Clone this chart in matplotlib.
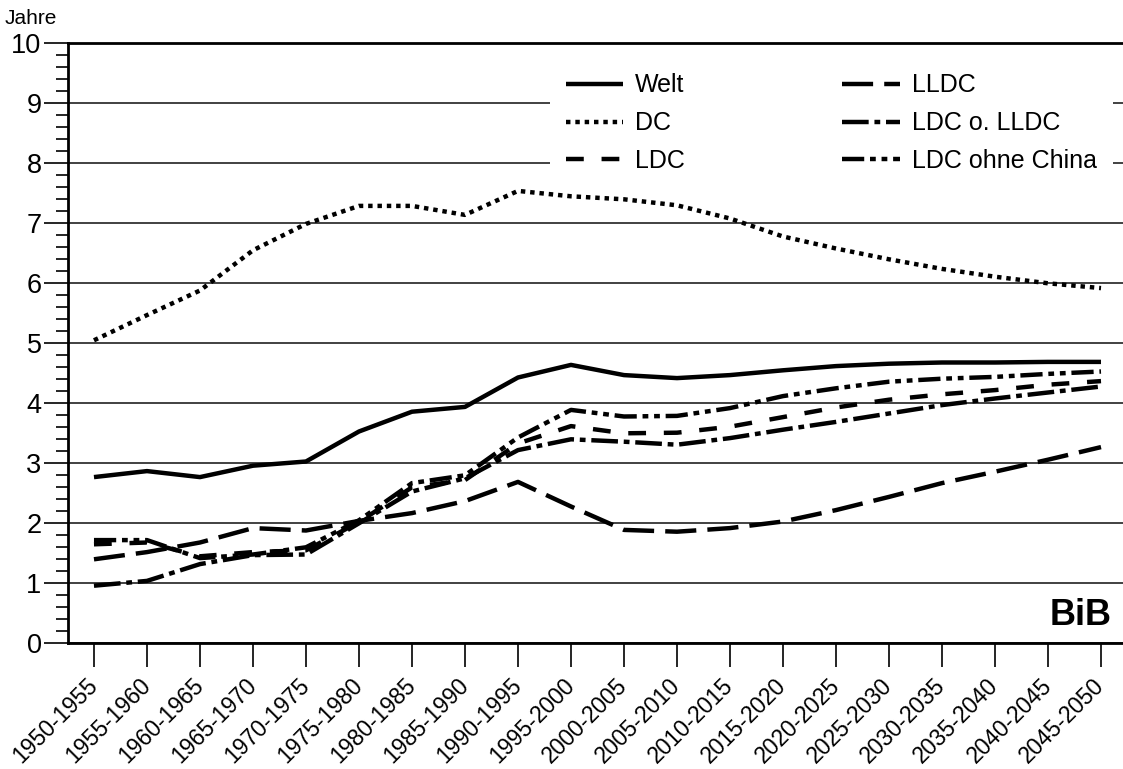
import numpy as np
import matplotlib.pyplot as plt
from matplotlib.ticker import MultipleLocator

plt.rcParams['font.family'] = ['Liberation Sans', 'DejaVu Sans']

perioden = ['1950-1955', '1955-1960', '1960-1965', '1965-1970', '1970-1975',
            '1975-1980', '1980-1985', '1985-1990', '1990-1995', '1995-2000',
            '2000-2005', '2005-2010', '2010-2015', '2015-2020', '2020-2025',
            '2025-2030', '2030-2035', '2035-2040', '2040-2045', '2045-2050']

welt = [2.77, 2.87, 2.77, 2.96, 3.03, 3.53, 3.86, 3.94, 4.43, 4.64,
        4.47, 4.42, 4.47, 4.55, 4.62, 4.66, 4.68, 4.68, 4.69, 4.69]
dc = [5.05, 5.47, 5.88, 6.55, 6.99, 7.29, 7.29, 7.14, 7.54, 7.45,
      7.40, 7.30, 7.08, 6.78, 6.58, 6.40, 6.24, 6.11, 6.00, 5.92]
ldc = [1.65, 1.68, 1.45, 1.52, 1.55, 2.02, 2.60, 2.72, 3.33, 3.62,
       3.50, 3.51, 3.61, 3.77, 3.93, 4.06, 4.15, 4.22, 4.31, 4.37]
lldc = [1.40, 1.52, 1.68, 1.92, 1.88, 2.04, 2.17, 2.37, 2.69, 2.28,
        1.89, 1.86, 1.92, 2.03, 2.22, 2.44, 2.67, 2.86, 3.06, 3.27]
ldc_o_lldc = [0.96, 1.04, 1.32, 1.47, 1.48, 2.00, 2.53, 2.75, 3.22, 3.40,
              3.36, 3.31, 3.42, 3.56, 3.69, 3.83, 3.97, 4.08, 4.18, 4.28]
ldc_ohne_china = [1.72, 1.72, 1.42, 1.48, 1.60, 2.05, 2.67, 2.80, 3.43, 3.89,
                  3.78, 3.79, 3.92, 4.12, 4.25, 4.36, 4.41, 4.44, 4.49, 4.53]

x = np.arange(len(perioden))

fig = plt.figure(figsize=(11.23, 7.69), dpi=100)
ax = fig.add_axes([68/1123, 125.7/769, 1 - 68/1123, 600/769])

lw = 3.2
ax.plot(x, welt, color='black', lw=lw, ls='-', label='Welt', solid_capstyle='butt')
ax.plot(x, dc, color='black', lw=lw, ls=(0, (1, 1.1)), label='DC', dash_capstyle='butt')
ax.plot(x, ldc, color='black', lw=lw, ls=(0, (4, 4)), label='LDC', dash_capstyle='butt')
ax.plot(x, lldc, color='black', lw=lw, ls=(0, (7, 2.5)), label='LLDC', dash_capstyle='butt')
ax.plot(x, ldc_o_lldc, color='black', lw=lw, ls=(0, (6, 1.3, 1.3, 1.3)),
        label='LDC o. LLDC', dash_capstyle='butt')
ax.plot(x, ldc_ohne_china, color='black', lw=lw, ls=(0, (5, 1.3, 1.3, 1.3, 1.3, 1.3)),
        label='LDC ohne China', dash_capstyle='butt')

ax.set_xlim(-0.49, 19.415)
ax.set_ylim(0, 10)
ax.yaxis.set_major_locator(MultipleLocator(1))
ax.yaxis.set_minor_locator(MultipleLocator(0.2))
ax.set_xticks(x)
ax.set_xticklabels(perioden, rotation=45, ha='right', va='center',
                   rotation_mode='anchor', fontsize=16.5)
ax.tick_params(axis='x', direction='out', length=17, width=1.2, pad=11)
ax.tick_params(axis='y', which='major', direction='out', length=17, width=1.2, labelsize=19.5, pad=2)
ax.tick_params(axis='y', which='minor', direction='out', length=8.5, width=1.2)

ax.grid(axis='y', which='major', color='#333333', lw=1.3)
ax.set_axisbelow(True)
for s in ['left', 'bottom', 'top']:
    ax.spines[s].set_linewidth(2)
ax.spines['right'].set_visible(False)

fig.text(5/1123, 1 - 19/769, 'Jahre', fontsize=15, va='center', ha='left')
fig.text(1112/1123, 1 - 625/769, 'BiB', fontsize=26, fontweight='bold', ha='right', va='baseline')

leg = ax.legend(ncol=2, loc='upper left', bbox_to_anchor=(537/1123, 1 - 45/769),
                bbox_transform=fig.transFigure, fontsize=18, frameon=True,
                handlelength=2.3, handletextpad=0.48, columnspacing=6.3,
                labelspacing=0.55, borderpad=0.64, fancybox=False)
leg.get_frame().set_facecolor('white')
leg.get_frame().set_edgecolor('none')
leg.get_frame().set_alpha(1)

fig.savefig('out.png', dpi=100)
